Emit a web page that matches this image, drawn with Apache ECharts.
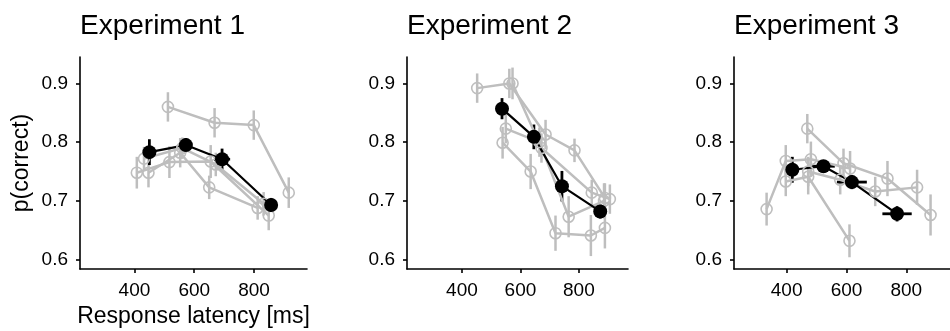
<!DOCTYPE html>
<html>
<head>
<meta charset="utf-8">
<script src="https://cdn.jsdelivr.net/npm/echarts@6/dist/echarts.min.js"></script>
<style>
  html, body { margin: 0; padding: 0; background: #fff; }
  #main { width: 950px; height: 331px; }
</style>
</head>
<body>
<div id="main"></div>
<script>
// each point: [latency ms, p(correct), y error, x error]
var titles = ['Experiment 1', 'Experiment 2', 'Experiment 3'];
var xTicks = [400, 600, 800];
var yTicks = [0.6, 0.7, 0.8, 0.9];

// Experiment 1
var exp1Mean = [[450, 0.783, 0.022, 15], [572, 0.795, 0.012, 15], [693, 0.771, 0.018, 27], [857, 0.693, 0.012, 15]];
var exp1Groups = [
  [[512, 0.860, 0.025], [668, 0.833, 0.025], [799, 0.829, 0.025], [916, 0.714, 0.026]],
  [[408, 0.748, 0.027], [517, 0.766, 0.027], [655, 0.767, 0.028], [849, 0.675, 0.025]],
  [[447, 0.748, 0.025], [553, 0.782, 0.025], [650, 0.723, 0.02], [812, 0.688, 0.02]],
  [[432, 0.772, 0.02], [560, 0.790, 0.018], [672, 0.762, 0.02], [832, 0.695, 0.02]]
];

// Experiment 2
var exp2Mean = [[537, 0.857, 0.018, 15], [646, 0.809, 0.021, 15], [742, 0.725, 0.026, 15], [873, 0.682, 0.012, 15]];
var exp2Groups = [
  [[452, 0.892, 0.025], [562, 0.900, 0.025], [686, 0.813, 0.025], [785, 0.786, 0.02], [889, 0.705, 0.025]],
  [[573, 0.900, 0.027], [672, 0.790, 0.025], [844, 0.714, 0.022], [906, 0.703, 0.025]],
  [[550, 0.823, 0.025], [665, 0.800, 0.025], [765, 0.673, 0.035], [886, 0.700, 0.03]],
  [[539, 0.799, 0.027], [635, 0.750, 0.03], [720, 0.645, 0.03], [841, 0.641, 0.035], [889, 0.654, 0.035]]
];

// Experiment 3
var exp3Mean = [[419, 0.753, 0.022, 20], [523, 0.759, 0.01, 38], [618, 0.732, 0.012, 50], [769, 0.678, 0.013, 49]];
var exp3Groups = [
  [[469, 0.823, 0.025], [590, 0.764, 0.025], [737, 0.738, 0.03], [881, 0.676, 0.035]],
  [[333, 0.686, 0.028], [397, 0.768, 0.027], [481, 0.771, 0.03], [612, 0.755, 0.03]],
  [[397, 0.733, 0.025], [472, 0.741, 0.03], [610, 0.632, 0.028]],
  [[472, 0.750, 0.025], [579, 0.736, 0.025], [696, 0.716, 0.025], [836, 0.723, 0.03]]
];

var xRanges = [[218, 977], [212, 968], [224, 946]];
var yRange = [0.584, 0.945];

var FONT = 'Liberation Sans';
var GREY = '#bebebe';

function errBars(idx, pts, color, w) {
  return {
    type: 'custom',
    xAxisIndex: idx, yAxisIndex: idx,
    data: pts.map(function (p) { return [p[0], p[1], p[2] || 0, p[3] || 0]; }),
    encode: { x: 0, y: 1 },
    silent: true,
    renderItem: function (params, api) {
      var x = api.value(0), y = api.value(1), ye = api.value(2), xe = api.value(3);
      var a = api.coord([x, y - ye]), b = api.coord([x, y + ye]);
      var kids = [{
        type: 'line',
        shape: { x1: a[0], y1: a[1], x2: b[0], y2: b[1] },
        style: { stroke: color, lineWidth: w }
      }];
      if (xe > 0) {
        var c = api.coord([x - xe, y]), d = api.coord([x + xe, y]);
        kids.push({
          type: 'line',
          shape: { x1: c[0], y1: c[1], x2: d[0], y2: d[1] },
          style: { stroke: color, lineWidth: w }
        });
      }
      return { type: 'group', children: kids };
    }
  };
}

var panels = [
  { mean: exp1Mean, groups: exp1Groups },
  { mean: exp2Mean, groups: exp2Groups },
  { mean: exp3Mean, groups: exp3Groups }
];
var lefts = [80, 407, 734];
var widths = [227, 221, 216];

var grid = [], xAxis = [], yAxis = [], series = [], title = [];
panels.forEach(function (pn, i) {
  grid.push({ left: lefts[i], top: 57, width: widths[i], height: 212, outerBoundsMode: 'none', containLabel: false });
  title.push({
    text: titles[i], left: lefts[i], top: 12, padding: 0,
    textStyle: { fontFamily: FONT, fontSize: 28, fontWeight: 'normal', color: '#000' }
  });
  xAxis.push({
    type: 'value', gridIndex: i, min: xRanges[i][0], max: xRanges[i][1],
    name: i === 0 ? 'Response latency [ms]' : '',
    nameLocation: 'middle', nameGap: 34,
    nameTextStyle: { fontFamily: FONT, fontSize: 23, color: '#000' },
    axisLine: { show: true, onZero: false, lineStyle: { color: '#000', width: 1.6 } },
    axisTick: { show: true, length: 4, customValues: xTicks, lineStyle: { color: '#000', width: 1.6 } },
    axisLabel: { customValues: xTicks, margin: 12, fontFamily: FONT, fontSize: 19, color: '#000' },
    splitLine: { show: false }
  });
  yAxis.push({
    type: 'value', gridIndex: i, min: yRange[0], max: yRange[1],
    name: i === 0 ? 'p(correct)' : '',
    nameLocation: 'middle', nameGap: 47, nameRotate: 90,
    nameTextStyle: { fontFamily: FONT, fontSize: 23, color: '#000' },
    axisLine: { show: true, onZero: false, lineStyle: { color: '#000', width: 1.6 } },
    axisTick: { show: true, length: 4, customValues: yTicks, lineStyle: { color: '#000', width: 1.6 } },
    axisLabel: {
      customValues: yTicks, margin: 12, fontFamily: FONT, fontSize: 19, color: '#000',
      formatter: function (v) { return v.toFixed(1); }
    },
    splitLine: { show: false }
  });

  pn.groups.forEach(function (g) {
    series.push(errBars(i, g, GREY, 2.5));
  });
  pn.groups.forEach(function (g) {
    series.push({
      type: 'line', xAxisIndex: i, yAxisIndex: i,
      data: g.map(function (p) { return [p[0], p[1]]; }),
      symbol: 'circle', symbolSize: 11,
      itemStyle: { color: 'rgba(0,0,0,0)', borderColor: GREY, borderWidth: 1.6 },
      lineStyle: { color: GREY, width: 2.5 },
      emphasis: { disabled: true }, silent: true, animation: false
    });
  });
  series.push(errBars(i, pn.mean, '#000', 2.8));
  series.push({
    type: 'line', xAxisIndex: i, yAxisIndex: i,
    data: pn.mean.map(function (p) { return [p[0], p[1]]; }),
    symbol: 'circle', symbolSize: 14,
    itemStyle: { color: '#000' },
    lineStyle: { color: '#000', width: 2.2 },
    emphasis: { disabled: true }, silent: true, animation: false
  });
});

var myChart = echarts.init(document.getElementById('main'));
myChart.setOption({
  animation: false,
  backgroundColor: '#fff',
  title: title,
  grid: grid,
  xAxis: xAxis,
  yAxis: yAxis,
  series: series
});
</script>
</body>
</html>
